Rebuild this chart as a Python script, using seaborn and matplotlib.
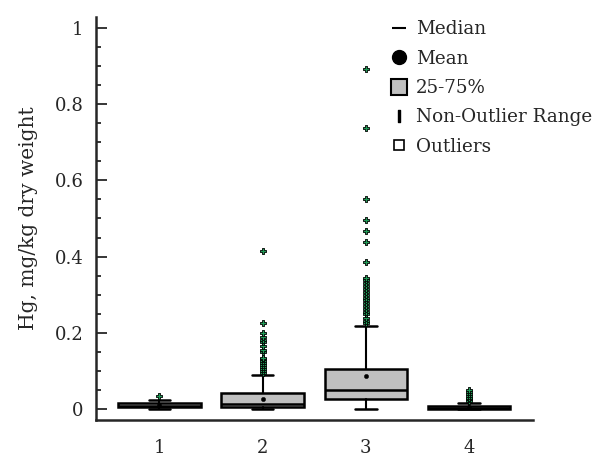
import numpy as np
import pandas as pd
import matplotlib
matplotlib.use("Agg")
import matplotlib.pyplot as plt
import seaborn as sns
from matplotlib.lines import Line2D
from matplotlib.ticker import MultipleLocator

# ── Data ──────────────────────────────────────────────────────────────────────
groups  = ['1', '2', '3', '4']
q1      = [0.004, 0.005, 0.027, 0.001]
median  = [0.009, 0.013, 0.049, 0.003]
q3      = [0.015, 0.042, 0.105, 0.007]
whislo  = [0.0,   0.0,   0.0,   0.0]
whishi  = [0.024, 0.090, 0.217, 0.016]
means   = [0.010, 0.027, 0.086, 0.004]

out_1 = [0.035]
out_2 = [0.095, 0.10, 0.105, 0.11, 0.115, 0.12, 0.125, 0.13, 0.135,
         0.15, 0.155, 0.165, 0.175, 0.18, 0.19, 0.20, 0.225, 0.415]
out_3 = [0.225, 0.232, 0.24, 0.248, 0.255, 0.262, 0.27, 0.278, 0.285,
         0.292, 0.30, 0.308, 0.315, 0.322, 0.33, 0.338, 0.345,
         0.385, 0.437, 0.468, 0.497, 0.55, 0.737, 0.893]
out_4 = [0.02, 0.025, 0.03, 0.035, 0.04, 0.045, 0.05]

y_ticks       = [0, 0.2, 0.4, 0.6, 0.8, 1.0]
y_tick_labels = ['0', '0.2', '0.4', '0.6', '0.8', '1']

# ── Style ─────────────────────────────────────────────────────────────────────
sns.set_style("ticks")
plt.rcParams['font.family'] = ['DejaVu Serif']

pos = np.arange(1, len(groups) + 1)

stats = [dict(label=g, q1=a, med=m, q3=b, whislo=lo, whishi=hi, mean=mu, fliers=[])
         for g, a, m, b, lo, hi, mu in zip(groups, q1, median, q3, whislo, whishi, means)]

outliers = pd.DataFrame({
    'pos'  : np.concatenate([[p] * len(o) for p, o in zip(pos, [out_1, out_2, out_3, out_4])]),
    'value': out_1 + out_2 + out_3 + out_4,
})
mean_df = pd.DataFrame({'pos': pos, 'value': means})

fig = plt.figure(figsize=(5.95, 4.58), dpi=100)
ax = fig.add_axes([0.1613, 0.0830, 0.7345, 0.8799])

ax.bxp(stats, positions=pos, widths=0.8, capwidths=0.21, patch_artist=True,
       showfliers=False, showmeans=False,
       boxprops=dict(facecolor='#c0c0c0', edgecolor='black', linewidth=1.8),
       medianprops=dict(color='black', linewidth=1.8),
       whiskerprops=dict(color='black', linewidth=1.5),
       capprops=dict(color='black', linewidth=1.8))

sns.scatterplot(data=outliers, x='pos', y='value', ax=ax, marker='P', s=22,
                color='#1f9a55', edgecolor='black', linewidth=0.6, zorder=4)
sns.scatterplot(data=mean_df, x='pos', y='value', ax=ax, marker='o', s=10,
                color='black', edgecolor='black', zorder=5)

# ── Axes ──────────────────────────────────────────────────────────────────────
ax.set_xlim(0.385, 4.62)
ax.set_ylim(-0.029, 1.029)
ax.set_xticks(pos)
ax.set_xticklabels(groups, fontsize=13)
ax.set_yticks(y_ticks)
ax.set_yticklabels(y_tick_labels, fontsize=13)
ax.yaxis.set_minor_locator(MultipleLocator(0.05))
ax.tick_params(axis='y', which='major', direction='in', length=8, width=1.3, pad=9)
ax.tick_params(axis='y', which='minor', direction='in', length=3.5, width=1.3)
ax.tick_params(axis='x', length=0, pad=14)
ax.set_xlabel('')
ax.set_ylabel('Hg, mg/kg dry weight', fontsize=14.5, labelpad=12)
for s in ['top', 'right']:
    ax.spines[s].set_visible(False)
for s in ['left', 'bottom']:
    ax.spines[s].set_linewidth(1.8)

# ── Legend ────────────────────────────────────────────────────────────────────
handles = [
    Line2D([], [], color='black', marker='_', linestyle='none', markersize=10, markeredgewidth=1.5),
    Line2D([], [], color='black', marker='o', linestyle='none', markersize=10),
    Line2D([], [], marker='s', linestyle='none', markersize=12,
           markerfacecolor='#c0c0c0', markeredgecolor='black', markeredgewidth=1.5),
    Line2D([], [], color='black', marker='$\\mathrm{I}$', linestyle='none', markersize=9),
    Line2D([], [], marker='s', linestyle='none', markersize=6.5,
           markerfacecolor='white', markeredgecolor='black', markeredgewidth=1.2),
]
labels = ['Median', 'Mean', '25-75%', 'Non-Outlier Range', 'Outliers']
ax.legend(handles, labels, loc='upper left', bbox_to_anchor=(0.655, 1.01),
          frameon=False, fontsize=13.2, handlelength=1.0, handletextpad=0.45,
          labelspacing=0.62, borderaxespad=0)

plt.savefig('out.png', dpi=100)
